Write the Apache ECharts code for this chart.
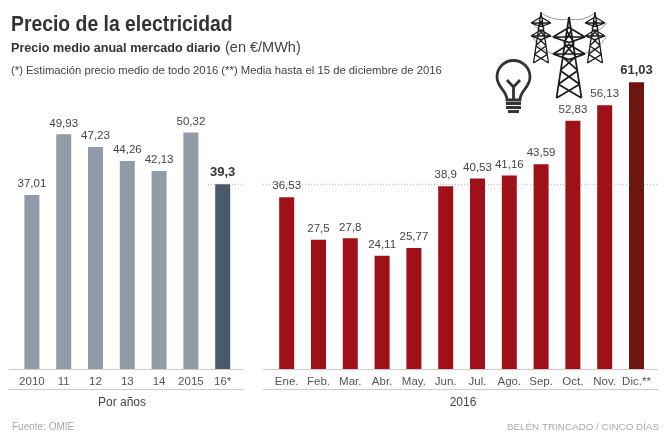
<!DOCTYPE html>
<html>
<head>
<meta charset="utf-8">
<style>html,body{margin:0;padding:0;background:#fff}#chart{width:664px;height:442px}</style>
<script src="https://cdn.jsdelivr.net/npm/echarts@6/dist/echarts.min.js"></script>
</head>
<body>
<div id="chart"></div>
<script>
const yearLabels = ['2010', '11', '12', '13', '14', '2015', '16*'];
const yearValues = [37.01, 49.93, 47.23, 44.26, 42.13, 50.32, 39.3];
const monthLabels = ['Ene.', 'Feb.', 'Mar.', 'Abr.', 'May.', 'Jun.', 'Jul.', 'Ago.', 'Sep.', 'Oct.', 'Nov.', 'Dic.**'];
const monthValues = [36.53, 27.5, 27.8, 24.11, 25.77, 38.9, 40.53, 41.16, 43.59, 52.83, 56.13, 61.03];
const refValue = 39.3;

const FONT = '"Liberation Sans", Arial, sans-serif';
const comma = v => String(v).replace('.', ',');

function barData(values, color, lastColor) {
    return values.map((v, i) => {
        const last = i == values.length - 1;
        return {
            value: v,
            itemStyle: {color: last ? lastColor : color},
            label: last ? {fontWeight: 'bold', fontSize: 13, color: '#333'} : {}
        };
    });
}

function barSeries(idx, values, color, lastColor) {
    return {
        type: 'bar',
        xAxisIndex: idx,
        yAxisIndex: idx,
        barWidth: 15,
        data: barData(values, color, lastColor),
        silent: true,
        label: {
            show: true,
            position: 'top',
            distance: 5,
            fontFamily: FONT,
            fontSize: 11.5,
            color: '#444',
            formatter: p => comma(p.value)
        }
    };
}

function xAxis(idx, labels) {
    return {
        type: 'category',
        gridIndex: idx,
        data: labels,
        axisLine: {show: false},
        axisTick: {show: false},
        axisLabel: {interval: 0, margin: 7, fontFamily: FONT, fontSize: 11.5, color: '#555'}
    };
}

function yAxis(idx) {
    return {type: 'value', gridIndex: idx, min: 0, max: 70, show: false};
}

// lattice tower, drawn as one svg path
function pylon(cx, top, bottom, halfBase, arms) {
    const xAt = y => halfBase * 0.12 + (halfBase - halfBase * 0.12) * (y - top) / (bottom - top);
    let d = `M${cx} ${top}L${cx - halfBase} ${bottom}M${cx} ${top}L${cx + halfBase} ${bottom}`;
    arms.forEach(a => {
        const y = a[0], w = a[1];
        d += `M${cx - w} ${y}H${cx + w}M${cx - w} ${y}L${cx} ${y - w * 0.6}L${cx + w} ${y}`;
        d += `M${cx - w} ${y}L${cx} ${y + w * 0.35}L${cx + w} ${y}`;
    });
    const steps = 5;
    for (let i = 0; i < steps; i++) {
        const y0 = top + (bottom - top) * (0.15 + 0.85 * i / steps);
        const y1 = top + (bottom - top) * (0.15 + 0.85 * (i + 1) / steps);
        d += `M${cx - xAt(y0)} ${y0}L${cx + xAt(y1)} ${y1}M${cx + xAt(y0)} ${y0}L${cx - xAt(y1)} ${y1}`;
    }
    return d;
}

const icons = {
    cables: 'M541 13Q555 22 569 19Q583 22 595 13M532 36Q540 50 553 54M607 36Q598 50 583 54M532 23Q542 34 553 37M607 23Q596 34 585 37',
    towerL: pylon(541, 12, 63, 7.5, [[23, 10], [36, 10]]),
    towerR: pylon(595, 12, 63, 7.5, [[23, 10], [36, 10]]),
    towerC: pylon(569, 17, 98, 12.5, [[37, 16], [54, 16]]),
    bulb: 'M507 100C507 90 497 88 497 77A16.5 16.5 0 1 1 530 77C530 88 520 90 520 100ZM513.5 99V87L507 80M513.5 87L520 80',
    screw: 'M506 103.5H521M506 107.5H521M508 111.5H519'
};
Object.keys(icons).forEach(k => {
    echarts.graphic.registerShape(k, echarts.graphic.extendPath(icons[k], {}));
});

const chart = echarts.init(document.getElementById('chart'), null, {renderer: 'canvas'});

chart.setOption({
    animation: false,
    backgroundColor: '#fff',
    grid: [
        {left: 16, width: 222.6, top: 40, height: 329},
        {left: 270.8, width: 381.6, top: 40, height: 329}
    ],
    xAxis: [xAxis(0, yearLabels), xAxis(1, monthLabels)],
    yAxis: [yAxis(0), yAxis(1)],
    series: [
        barSeries(0, yearValues, '#929ca8', '#4a5a68'),
        barSeries(1, monthValues, '#a01018', '#6e1510')
    ]
});

// reference dots and the rules under the bars, placed from the axis scale
const refY = chart.convertToPixel({yAxisIndex: 0}, refValue);
const baseY = chart.convertToPixel({yAxisIndex: 0}, 0);

function rule(x1, x2, y, style) {
    return {type: 'line', z: 20, silent: true, shape: {x1: x1, y1: y, x2: x2, y2: y}, style: style};
}
function label(str, x, y, size, color, weight, align, scaleX) {
    return {
        type: 'text', z: 20, silent: true, x: x, y: y, scaleX: scaleX || 1,
        style: {
            text: str, fill: color, textAlign: align || 'left', textVerticalAlign: 'middle',
            font: `${weight || 'normal'} ${size}px "Liberation Sans", Arial, sans-serif`
        }
    };
}
function icon(name, style) {
    return {type: name, silent: true, z: 19, style: style};
}
const solid = {stroke: '#ccc', lineWidth: 1};
const dotted = {stroke: 'rgba(90,90,90,0.5)', lineWidth: 1, lineDash: [1, 2]};
const ink = {fill: 'none', stroke: '#1c1c1c', lineWidth: 1.7};
const thin = {fill: 'none', stroke: '#1c1c1c', lineWidth: 1.3};
const bulbInk = {fill: 'none', stroke: '#333', lineWidth: 2.8};

chart.setOption({
    graphic: [
        label('Precio de la electricidad', 11, 25, 22, '#333', 'bold', 'left', 0.88),
        label('Precio medio anual mercado diario', 11, 48, 13, '#333', 'bold', 'left', 0.97),
        label('(en €/MWh)', 225, 48, 14.5, '#444'),
        label('(*) Estimación precio medio de todo 2016 (**) Media hasta el 15 de diciembre de 2016', 11, 71, 11.3, '#444'),
        label('Por años', 122, 403, 12, '#444', 'normal', 'center'),
        label('2016', 463, 403, 12, '#444', 'normal', 'center'),
        label('Fuente: OMIE', 12, 427, 10, '#aaa'),
        label('BELÉN TRINCADO / CINCO DÍAS', 659, 427, 9.85, '#aaa', 'normal', 'right'),
        rule(9, 244, baseY + 0.5, solid),
        rule(263, 658, baseY + 0.5, solid),
        rule(9, 244, baseY + 20.5, solid),
        rule(263, 658, baseY + 20.5, solid),
        rule(208, 243, refY, dotted),
        rule(263, 658, refY, dotted),
        icon('cables', {fill: 'none', stroke: '#999', lineWidth: 1}),
        icon('towerL', thin),
        icon('towerR', thin),
        icon('towerC', ink),
        icon('bulb', bulbInk),
        icon('screw', bulbInk)
    ]
});
</script>
</body>
</html>
